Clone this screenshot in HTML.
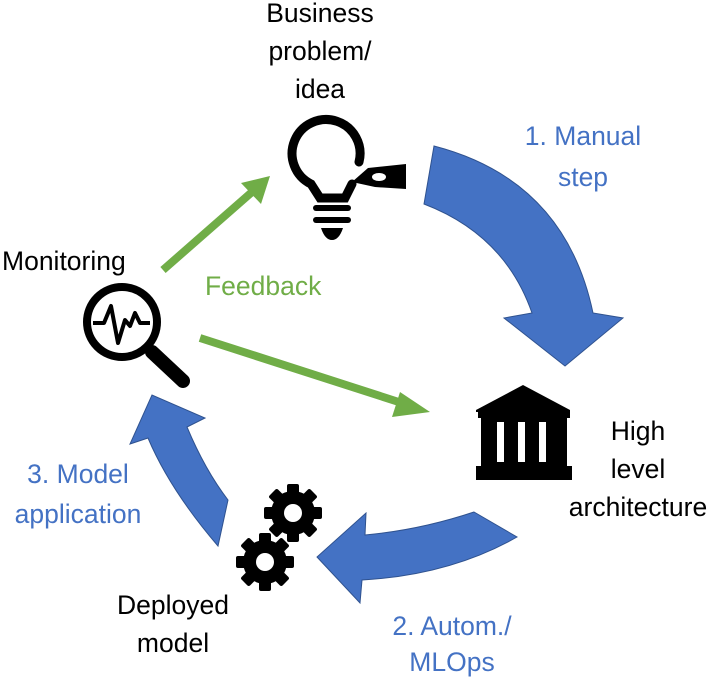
<!DOCTYPE html>
<html><head><style>
body{margin:0;background:#fff;}
svg{display:block;}
text{font-family:"Liberation Sans",sans-serif;font-size:26.5px;}
</style></head><body>
<svg width="707" height="681" viewBox="0 0 707 681">
<defs>
<g id="gear">
<circle r="22" fill="#000"/>
<g fill="#000">
<rect x="-6" y="-29" width="12" height="58" rx="2"/>
<rect x="-6" y="-29" width="12" height="58" rx="2" transform="rotate(45)"/>
<rect x="-6" y="-29" width="12" height="58" rx="2" transform="rotate(90)"/>
<rect x="-6" y="-29" width="12" height="58" rx="2" transform="rotate(135)"/>
</g>
<circle r="9" fill="#fff"/>
</g>
</defs>
<path d="M434,146 Q565,180 593,313 L623,318 L565,366 L504,318 L532,313 Q505,235 424,204 Z" fill="#4472c4" stroke="#2f528f" stroke-width="1"/>
<path d="M474,512 Q420,530 365,535 L366,513 L317,557 L360,603 L362,580 Q450,575 517,537 Z" fill="#4472c4" stroke="#2f528f" stroke-width="1"/>
<path d="M218,546 Q170,490 148,438 L130,444 L152,395 L205,418 L187,427 Q205,470 228,500 Z" fill="#4472c4" stroke="#2f528f" stroke-width="1"/>
<line x1="163" y1="270" x2="252" y2="192" stroke="#70ad47" stroke-width="8"/>
<polygon points="270,176 241,183 261,204" fill="#70ad47"/>
<line x1="200" y1="338" x2="405" y2="404" stroke="#70ad47" stroke-width="8"/>
<polygon points="430,412 400,392 392,417" fill="#70ad47"/>
<g fill="none" stroke="#000" stroke-width="9" stroke-linecap="round">
<path d="M359,162 A34,34 0 1 0 311,184 L320,198 L345,198 L352,184"/>
</g>
<path d="M352,182 L368,168 L406,164 L406,189 L375,187 Z" fill="#000"/>
<ellipse cx="379" cy="177" rx="7" ry="4" fill="#fff"/>
<rect x="313" y="205" width="38" height="6" rx="3" fill="#000"/>
<rect x="313" y="217" width="38" height="6" rx="3" fill="#000"/>
<path d="M321,228 L343,228 Q339,240 332,240 Q325,240 321,228 Z" fill="#000"/>
<circle cx="122" cy="322" r="35" fill="none" stroke="#000" stroke-width="8"/>
<line x1="152" y1="352" x2="183" y2="381" stroke="#000" stroke-width="14" stroke-linecap="round"/>
<polyline points="93,323 104,323 111,306 118,343 125,320 130,326 135,313 140,323 150,323" fill="none" stroke="#000" stroke-width="4" stroke-linejoin="round"/>
<polygon points="523,385 570,410 570,412 476,412 476,410" fill="#000"/>
<rect x="478" y="410" width="92" height="8" fill="#000"/>
<rect x="481" y="418" width="86" height="49" fill="#000"/>
<g fill="#fff"><rect x="497" y="422" width="7" height="40"/><rect x="518" y="422" width="7" height="40"/><rect x="539" y="422" width="7" height="40"/></g>
<rect x="476" y="466" width="96" height="14" fill="#000"/>
<use href="#gear" x="293" y="513"/>
<use href="#gear" x="265" y="562"/>
<g text-anchor="middle" fill="#000">
<text x="320" y="22">Business</text>
<text x="320" y="60">problem/</text>
<text x="320" y="98">idea</text>
<text x="638" y="440">High</text>
<text x="638" y="478">level</text>
<text x="638" y="516">architecture</text>
<text x="173" y="614">Deployed</text>
<text x="173" y="652">model</text>
</g>
<text x="2" y="270" fill="#000">Monitoring</text>
<text x="205" y="295" fill="#70ad47">Feedback</text>
<g text-anchor="middle" fill="#4472c4">
<text x="583" y="145">1. Manual</text>
<text x="583" y="186">step</text>
<text x="78" y="483">3. Model</text>
<text x="78" y="523">application</text>
<text x="452" y="635">2. Autom./</text>
<text x="452" y="671">MLOps</text>
</g>
</svg>
</body></html>
